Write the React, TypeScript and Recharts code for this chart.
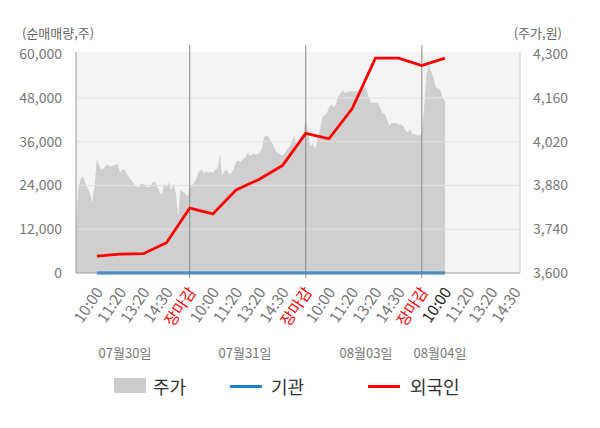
import React from 'react'
import {
  ComposedChart,
  Area,
  Line,
  XAxis,
  YAxis,
  CartesianGrid,
  ReferenceLine,
} from 'recharts'

// x tick labels, one every 10 slots starting at slot 0
const tickLabels = [
  '10:00', '11:20', '13:20', '14:30', '장마감',
  '10:00', '11:20', '13:20', '14:30', '장마감',
  '10:00', '11:20', '13:20', '14:30', '장마감',
  '10:00', '11:20', '13:20', '14:30',
]
const dayLabels = ['07월30일', '07월31일', '08월03일', '08월04일']
const leftTicks = [0, 12000, 24000, 36000, 48000, 60000]
const rightTicks = [3600, 3740, 3880, 4020, 4160, 4300]
const gridValues = [12000, 24000, 36000, 48000]
const closeSlots = [40, 90, 140]

// 주가 (won), slot -9 .. 150
const priceDay1 = [
  3750, 3870, 3900, 3910, 3890, 3870, 3855, 3825, 3880, 3965,
  3945, 3930, 3935, 3945, 3945, 3940, 3945, 3945, 3950, 3920,
  3930, 3930, 3915, 3905, 3895, 3885, 3875, 3875, 3885, 3885,
  3875, 3875, 3875, 3890, 3890, 3875, 3860, 3850, 3885, 3875,
  3890, 3865, 3885, 3855, 3780, 3865, 3860, 3855, 3845, 3870,
]
const priceDay2 = [
  3880, 3890, 3905, 3925, 3930, 3920, 3925, 3920, 3925, 3920,
  3930, 3935, 3980, 3910, 3925, 3930, 3915, 3920, 3935, 3955,
  3960, 3955, 3965, 3970, 3985, 3975, 3980, 3980, 3980, 3985,
  3995, 4035, 4040, 4035, 4020, 4010, 3990, 3985, 3980, 3975,
  3985, 3995, 4005, 4020, 4040, 4010, 4015, 4035, 4045, 4100,
]
const priceDay3 = [
  4045, 4005, 4015, 3995, 4030, 4055, 4095, 4105, 4110, 4130,
  4140, 4130, 4140, 4165, 4175, 4185, 4175, 4180, 4180, 4185,
  4180, 4180, 4185, 4185, 4200, 4190, 4165, 4145, 4145, 4145,
  4145, 4130, 4110, 4110, 4090, 4070, 4080, 4080, 4080, 4075,
  4075, 4070, 4055, 4050, 4060, 4045, 4045, 4040, 4040, 4045,
]
const priceDay4 = [4130, 4235, 4265, 4245, 4225, 4195, 4190, 4185, 4160, 4150]

// 순매매량 (cumulative shares) at each tick
const foreign = [
  4600, 5200, 5300, 8300, 17800, 16200, 22800, 25700,
  29500, 38300, 36800, 45100, 58900, 58900, 56900, 58900,
]
const institution = [0, 0, 0, 0, 0, 0, 0, 0, 0, 0, 0, 0, 0, 0, 0, 0]

const prices = [...priceDay1, ...priceDay2, ...priceDay3, ...priceDay4]
const data = prices.map((price, i) => {
  const slot = i - 9
  const row: Record<string, number> = { slot, price }
  if (slot % 10 === 0 && slot / 10 < foreign.length) {
    row.foreign = foreign[slot / 10]
    row.institution = institution[slot / 10]
  }
  return row
})

const fmt = (v: number) => v.toLocaleString('en-US')

const XTick = (props: any) => {
  const { x, y, payload } = props
  const idx = Math.round(payload.value / 10)
  const label = tickLabels[idx]
  const color = label === '장마감' ? '#ff0000' : idx === 15 ? '#222' : '#777'
  const ax = x + 7
  const ay = y + 19
  return (
    <text
      x={ax}
      y={ay}
      transform={`rotate(-56, ${ax}, ${ay})`}
      textAnchor="end"
      fill={color}
      fontSize={15.5}
    >
      {label}
    </text>
  )
}

const SepLine = (p: any) => {
  const top = Math.min(p.y1, p.y2)
  const bottom = Math.max(p.y1, p.y2)
  return <line x1={p.x1} x2={p.x2} y1={top - 7} y2={bottom + 5} stroke="#888" strokeWidth={1} />
}

const dayCenters = [125, 245, 366, 440]

export default function App() {
  return (
    <div
      style={{
        position: 'absolute',
        left: 0,
        top: 0,
        width: 600,
        height: 428,
        background: '#fff',
        fontFamily: '"Noto Sans CJK KR", "Noto Sans", sans-serif',
      }}
    >
      <ComposedChart
        width={600}
        height={428}
        data={data}
        margin={{ top: 52, right: 0, bottom: 0, left: 0 }}
      >
        <CartesianGrid
          yAxisId="left"
          vertical={false}
          horizontal={false}
          fill="#f4f4f4"
        />
        <XAxis
          dataKey="slot"
          type="number"
          domain={[-9, 182.3]}
          ticks={tickLabels.map((_, i) => i * 10)}
          interval={0}
          height={155}
          tickSize={0}
          tickMargin={0}
          tickLine={false}
          axisLine={{ stroke: '#999' }}
          tick={<XTick />}
        />
        <YAxis
          yAxisId="left"
          orientation="left"
          width={76}
          domain={[0, 60600]}
          ticks={leftTicks}
          tickFormatter={fmt}
          tickLine={false}
          axisLine={{ stroke: '#999' }}
          tick={{ fill: '#777', fontSize: 14 }}
          tickMargin={8}
        />
        <YAxis
          yAxisId="right"
          orientation="right"
          width={80}
          domain={[3600, 4307]}
          ticks={rightTicks}
          tickFormatter={fmt}
          tickLine={false}
          axisLine={{ stroke: '#ccc' }}
          tick={{ fill: '#777', fontSize: 14 }}
          tickMargin={7}
        />
        <Area
          yAxisId="right"
          dataKey="price"
          type="linear"
          stroke="none"
          fill="#cfcfcf"
          fillOpacity={1}
          isAnimationActive={false}
        />
        {gridValues.map((v) => (
          <ReferenceLine key={v} yAxisId="left" y={v} stroke="#e2e2e2" strokeWidth={1} />
        ))}
        {closeSlots.map((s) => (
          <ReferenceLine key={s} yAxisId="left" x={s} shape={SepLine} />
        ))}
        <Line
          yAxisId="left"
          dataKey="institution"
          stroke="#1b80d0"
          strokeWidth={3}
          dot={false}
          connectNulls
          isAnimationActive={false}
        />
        <Line
          yAxisId="left"
          dataKey="foreign"
          stroke="#ff0000"
          strokeWidth={2.8}
          dot={false}
          connectNulls
          isAnimationActive={false}
        />
      </ComposedChart>

      <div style={{ position: 'absolute', left: 22, top: 25, fontSize: 13, lineHeight: '16px', color: '#666' }}>
        (순매매량,주)
      </div>
      <div style={{ position: 'absolute', right: 38, top: 25, fontSize: 13, lineHeight: '16px', color: '#666' }}>
        (주가,원)
      </div>

      {dayLabels.map((d, i) => (
        <div
          key={d}
          style={{
            position: 'absolute',
            left: dayCenters[i] - 40,
            width: 80,
            top: 345,
            textAlign: 'center',
            fontSize: 13,
            lineHeight: '16px',
            color: '#777',
          }}
        >
          {d}
        </div>
      ))}

      <div style={{ position: 'absolute', left: 114, top: 378, width: 32, height: 15, background: '#cccccc' }} />
      <div style={{ position: 'absolute', left: 153, top: 375, fontSize: 18, lineHeight: '22px', color: '#333' }}>주가</div>
      <div style={{ position: 'absolute', left: 230, top: 385, width: 32, height: 3, background: '#1b80d0' }} />
      <div style={{ position: 'absolute', left: 271, top: 375, fontSize: 18, lineHeight: '22px', color: '#333' }}>기관</div>
      <div style={{ position: 'absolute', left: 368, top: 385, width: 32, height: 3, background: '#ff0000' }} />
      <div style={{ position: 'absolute', left: 410, top: 375, fontSize: 18, lineHeight: '22px', color: '#333' }}>외국인</div>
    </div>
  )
}
